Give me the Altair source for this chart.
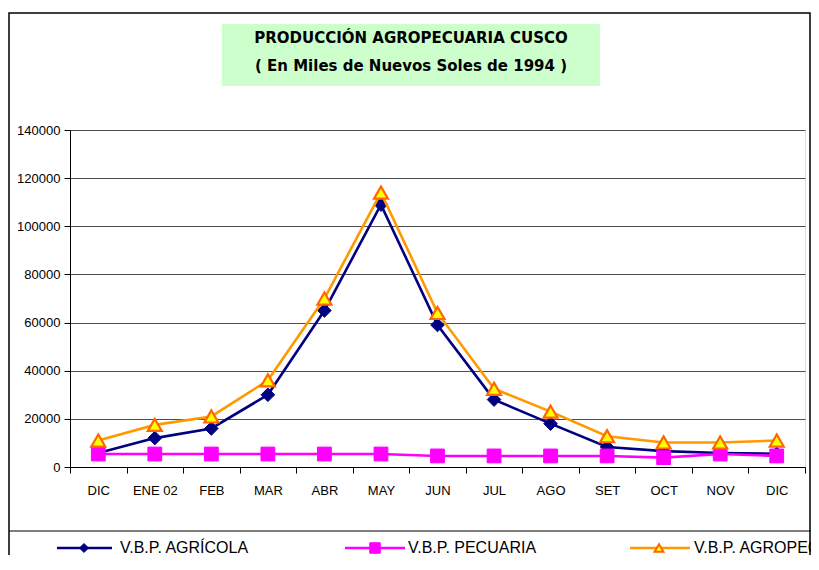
import altair as alt
import pandas as pd

months = ["DIC", "ENE 02", "FEB", "MAR", "ABR", "MAY", "JUN", "JUL", "AGO", "SET", "OCT", "NOV", "DIC"]
agricola = [5800, 12000, 16000, 30000, 65000, 109000, 59000, 28000, 18000, 8300, 6600, 5800, 5500]
pecuaria = [5400, 5400, 5400, 5400, 5400, 5400, 4600, 4600, 4600, 4600, 3900, 5400, 4600]
agropecuaria = [11000, 17500, 21000, 36000, 70000, 114000, 64000, 32500, 23000, 12800, 10200, 10200, 11000]
series_names = ["V.B.P. AGRÍCOLA", "V.B.P. PECUARIA", "V.B.P. AGROPECUARIA"]
title_lines = ["PRODUCCIÓN AGROPECUARIA  CUSCO", "( En Miles de Nuevos Soles de 1994 )"]
y_ticks = [0, 20000, 40000, 60000, 80000, 100000, 120000, 140000]

df = pd.DataFrame({
    "idx": list(range(len(months))),
    "agricola": agricola,
    "pecuaria": pecuaria,
    "agropecuaria": agropecuaria,
})

FONT = "Liberation Sans"
TITLE_FONT = "DejaVu Sans"
label_expr = "[" + ",".join("'" + m + "'" for m in months) + "][datum.value]"

x_enc = alt.X(
    "idx:O",
    scale=alt.Scale(type="band", paddingInner=0, paddingOuter=0),
    axis=alt.Axis(
        title=None, labelExpr=label_expr, labelAngle=0, tickBand="extent",
        labelFontSize=13, labelColor="black", labelPadding=11, tickSize=6,
        tickColor="black", domainColor="black", grid=False, labelFont=FONT,
    ),
)


def y_enc(col):
    return alt.Y(
        col, type="quantitative",
        scale=alt.Scale(domain=[0, 140000], nice=False),
        axis=alt.Axis(
            title=None, values=y_ticks, format="d", labelFontSize=13,
            labelColor="black", labelPadding=4, tickSize=6, tickColor="black",
            domainColor="black", grid=True, gridColor="#4d4d4d", labelFont=FONT,
        ),
    )


base = alt.Chart(df)

styles = [
    ("agricola", "#000080", dict(shape="diamond", fill="#000080", stroke="#000080", size=185, strokeWidth=1)),
    ("pecuaria", "#FF00FF", dict(shape="square", fill="#FF00FF", stroke="#FF00FF", size=190, strokeWidth=1)),
    ("agropecuaria", "#FF9900", dict(shape="triangle-up", fill="#FFFF00", stroke="#FF6600", size=195, strokeWidth=2.2)),
]

data_layers = []
for col, color, pt in styles:
    data_layers.append(base.mark_line(color=color, strokeWidth=2.6).encode(x=x_enc, y=y_enc(col)))
    data_layers.append(base.mark_point(filled=False, opacity=1, fillOpacity=1, **pt).encode(x=x_enc, y=y_enc(col)))

one = alt.Data(values=[{"k": 0}])
deco = alt.Chart(one)

frame = deco.mark_rect(fillOpacity=0, stroke="black", strokeWidth=1.5).encode(
    x=alt.value(-61), x2=alt.value(740), y=alt.value(-117), y2=alt.value(460))
legend_top = deco.mark_rule(color="black", strokeWidth=1.2).encode(
    x=alt.value(-61), x2=alt.value(760), y=alt.value(401))
title_box = deco.mark_rect(fill="#CCFFCC").encode(
    x=alt.value(152), x2=alt.value(530), y=alt.value(-106), y2=alt.value(-44))
title1 = deco.mark_text(font=TITLE_FONT, fontSize=15, fontWeight="bold", color="black",
                        align="center", baseline="middle").encode(
    x=alt.value(341), y=alt.value(-92), text=alt.value(title_lines[0]))
title2 = deco.mark_text(font=TITLE_FONT, fontSize=15, fontWeight="bold", color="black",
                        align="center", baseline="middle").encode(
    x=alt.value(341), y=alt.value(-64), text=alt.value(title_lines[1]))

leg_layers = []
leg_pos = [(-13, 42, 14, 50), (275, 335, 305, 338), (560, 620, 589, 624)]
leg_pts = [
    dict(shape="diamond", fill="#000080", stroke="#000080", size=80, strokeWidth=1),
    dict(shape="square", fill="#FF00FF", stroke="#FF00FF", size=110, strokeWidth=1),
    dict(shape="triangle-up", fill="#FFFF00", stroke="#FF6600", size=80, strokeWidth=2),
]
for (x1, x2, xc, xt), (col, color, _), pt, name in zip(leg_pos, styles, leg_pts, series_names):
    leg_layers.append(deco.mark_rule(color=color, strokeWidth=2.5).encode(
        x=alt.value(x1), x2=alt.value(x2), y=alt.value(418)))
    leg_layers.append(deco.mark_point(filled=False, opacity=1, fillOpacity=1, **pt).encode(
        x=alt.value(xc), y=alt.value(418)))
    leg_layers.append(deco.mark_text(font=FONT, fontSize=16, color="black", align="left",
                                     baseline="middle").encode(
        x=alt.value(xt), y=alt.value(418), text=alt.value(name)))

chart = alt.layer(
    frame, legend_top, title_box, title1, title2,
    *data_layers, *leg_layers,
).properties(
    width=735, height=337,
    autosize=alt.AutoSizeParams(type="none"),
    padding={"left": 62, "top": 122, "right": 6, "bottom": 88},
    background="white",
).configure_view(
    fill="#CCFFCC", stroke="#808080", strokeWidth=2,
).configure(font=FONT)

chart.save("out.html", embed_options={"renderer": "svg", "actions": False})
